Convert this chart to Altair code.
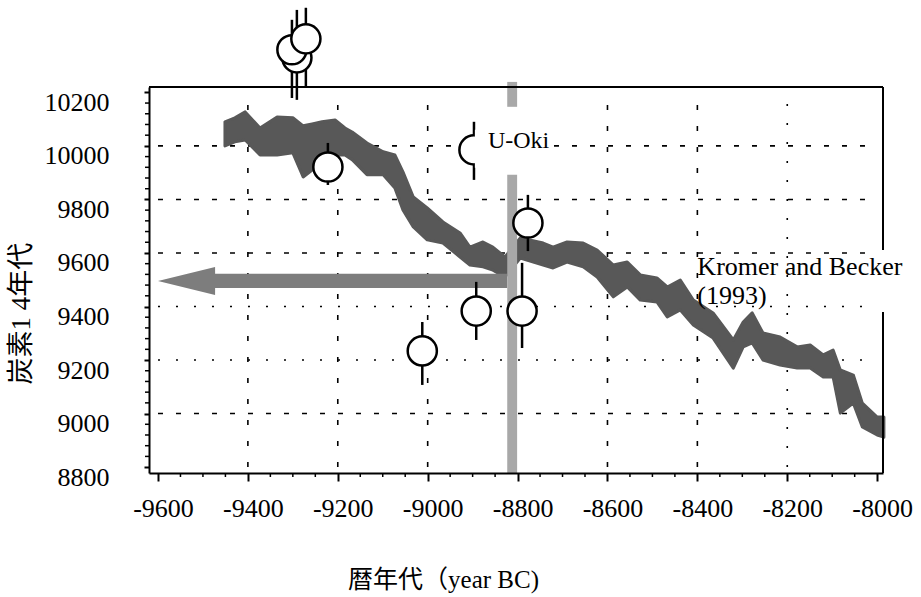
import altair as alt
import pandas as pd

# ---- Kromer and Becker (1993) calibration band (upper / lower C14 ages) ----
kb_year = [-9451, -9429, -9406, -9373, -9335, -9300, -9277, -9257, -9235, -9206,
           -9184, -9168, -9135, -9099, -9073, -9055, -9032, -9001, -8966, -8928,
           -8906, -8877, -8855, -8828, -8794, -8743, -8721, -8690, -8654, -8623,
           -8587, -8556, -8527, -8490, -8467, -8438, -8409, -8365, -8320, -8298,
           -8278, -8254, -8216, -8178, -8149, -8120, -8098, -8082, -8053, -8033,
           -8000, -7985]
kb_upper = [10090, 10105, 10127, 10067, 10108, 10105, 10075, 10082, 10090, 10097,
            10067, 10052, 10011, 9978, 9966, 9903, 9809, 9768, 9716, 9675,
            9622, 9641, 9622, 9585, 9656, 9637, 9622, 9641, 9637, 9611,
            9555, 9566, 9518, 9507, 9473, 9499, 9424, 9376, 9275, 9342,
            9376, 9301, 9286, 9249, 9256, 9219, 9237, 9163, 9144, 9039,
            8987, 8987]
kb_lower = [10000, 10015, 10022, 9966, 9966, 9974, 9884, 9910, 9948, 9966,
            9966, 9948, 9892, 9892, 9843, 9761, 9697, 9649, 9637, 9585,
            9555, 9548, 9536, 9510, 9581, 9555, 9544, 9566, 9548, 9510,
            9436, 9473, 9424, 9417, 9361, 9387, 9331, 9282, 9170, 9249,
            9264, 9200, 9181, 9170, 9170, 9137, 9137, 9002, 9039, 8950,
            8920, 8912]

# ---- measured samples (open circles with error bars) ----
pt_year = [-9222, -8897, -8777, -8892, -8790, -9012, -9291, -9302, -9271]
pt_c14 = [9921, 9985, 9712, 9383, 9383, 9234, 10329, 10359, 10400]
pt_lo = [9854, 9873, 9607, 9275, 9245, 9107, 10172, 10179, 10217]
pt_hi = [10011, 10090, 9817, 9492, 9563, 9342, 10508, 10471, 10516]

# ---- arrow (calendar-age range) ----
arrow_year = [-9600, -9473, -9472.9, -8823]
arrow_top = [9495, 9548, 9522, 9522]
arrow_bot = [9495, 9443, 9469, 9469]

# ---- vertical grey marker near -8810 ----
marker_x1 = [-8823, -8823]
marker_x2 = [-8801, -8801]
marker_top = [10239, 9892]
marker_bot = [10146, 8778]

# ---- axis ticks ----
x_ticks = [-9600, -9400, -9200, -9000, -8800, -8600, -8400, -8200, -8000]
y_ticks = [8800, 9000, 9200, 9400, 9600, 9800, 10000, 10200]
x_minor = [v for v in range(-9600, -7999, 50) if v % 200 != 0]
y_minor = [v for v in range(8800, 10201, 40) if v % 200 != 0]

# ---- grid lines ----
hgrid_dashed = [10000, 9800, 9600, 9000]
hgrid_dotted = [9400, 9200]
vgrid_dashed = [-9400, -9200, -9000, -8600, -8400]
vgrid_dotted = [-8200]

# ---- labels ----
labels_text = ["U-Oki", "Kromer and Becker", "(1993)"]
labels_x = [-8866, -8400, -8400]
labels_y = [9992, 9518, 9409]
labels_size = [24, 26, 26]

SERIF = "Liberation Serif"
MIXED = "Liberation Serif, Noto Sans CJK JP"

W, H = 734, 386
xs = alt.Scale(domain=[-9620, -7987], nice=False, zero=False)
ys = alt.Scale(domain=[8778, 10220], nice=False, zero=False)

x_axis = alt.Axis(
    values=x_ticks, labelExpr="'' + datum.value", labelFont=SERIF, labelFontSize=26,
    labelColor="black", labelPadding=27, labelBaseline="middle", labelOffset=5,
    labelFlush=False, labelOverlap=False,
    tickSize=8, tickWidth=2, tickColor="black", domainColor="black", domainWidth=2,
    grid=False, title="暦年代（year BC)", titleFont=MIXED, titleFontSize=25,
    titleFontWeight="normal", titleColor="black", titleX=294, titleY=114,
    titleAlign="center", titleBaseline="alphabetic", zindex=1)
y_axis = alt.Axis(
    values=y_ticks, labelExpr="'' + datum.value", labelFont=SERIF, labelFontSize=26,
    labelColor="black", labelPadding=35, labelBaseline="middle", labelOffset=10,
    labelFlush=False, labelOverlap=False,
    tickSize=5, tickWidth=2, tickColor="black", domainColor="black", domainWidth=2,
    grid=False, title="炭素1 4年代", titleFont=MIXED, titleFontSize=27,
    titleFontWeight="normal", titleColor="black", titleAngle=270, titleX=-128,
    titleY=226, titleAlign="center", titleBaseline="middle", zindex=1)


def X(f):
    return alt.X(f, type="quantitative", scale=xs, axis=x_axis)


def Y(f):
    return alt.Y(f, type="quantitative", scale=ys, axis=y_axis)


band_df = pd.DataFrame({"year": kb_year, "upper": kb_upper, "lower": kb_lower})
pt_df = pd.DataFrame({"year": pt_year, "c14": pt_c14, "lo": pt_lo, "hi": pt_hi})
arrow_df = pd.DataFrame({"year": arrow_year, "top": arrow_top, "bot": arrow_bot})
marker_df = pd.DataFrame({"x1": marker_x1, "x2": marker_x2, "top": marker_top, "bot": marker_bot})
lab_df = pd.DataFrame({"t": labels_text, "x": labels_x, "y": labels_y, "s": labels_size})


def hgrid(vals, dash):
    df = pd.DataFrame({"y": vals, "x1": [x_ticks[0]] * len(vals), "x2": [x_ticks[-1]] * len(vals)})
    return alt.Chart(df).mark_rule(color="black", strokeWidth=1.6, strokeDash=dash).encode(
        x=X("x1"), x2="x2:Q", y=Y("y"))


def vgrid(vals, dash):
    df = pd.DataFrame({"x": vals, "y1": [y_ticks[0]] * len(vals), "y2": [y_ticks[-1]] * len(vals)})
    return alt.Chart(df).mark_rule(color="black", strokeWidth=1.6, strokeDash=dash).encode(
        x=X("x"), y=Y("y1"), y2="y2:Q")


band = alt.Chart(band_df).mark_area(
    color="#585858", opacity=1, stroke="#585858", strokeWidth=3, strokeJoin="round").encode(
    x=X("year"), y=Y("upper"), y2="lower:Q")

arrow = alt.Chart(arrow_df).mark_area(color="#7d7d7d", opacity=1).encode(
    x=X("year"), y=Y("top"), y2="bot:Q")

marker = alt.Chart(marker_df).mark_rect(color="#a8a8a8").encode(
    x=X("x1"), x2="x2:Q", y=Y("top"), y2="bot:Q")

ebars = alt.Chart(pt_df).mark_rule(color="black", strokeWidth=2.5).encode(
    x=X("year"), y=Y("lo"), y2="hi:Q")

circles = alt.Chart(pt_df).mark_point(
    shape="circle", size=850, fill="white", fillOpacity=1, stroke="black",
    strokeWidth=2.5, opacity=1).encode(x=X("year"), y=Y("c14"))

# white background behind the U-Oki label
mask_df = pd.DataFrame({"x1": [-8895], "x2": [-8722], "y1": [9918], "y2": [10060]})
mask = alt.Chart(mask_df).mark_rect(color="white").encode(
    x=X("x1"), x2="x2:Q", y=Y("y1"), y2="y2:Q")

texts = alt.Chart(lab_df).mark_text(
    font=SERIF, align="left", baseline="alphabetic", color="black").encode(
    x=X("x"), y=Y("y"), text="t:N", size=alt.Size("s:Q", scale=None, legend=None))

frame_top = alt.Chart(pd.DataFrame({"k": [0]})).mark_rule(color="black", strokeWidth=2).encode(
    x=alt.value(0), x2=alt.value(W), y=alt.value(0))
frame_right_a = alt.Chart(pd.DataFrame({"k": [0]})).mark_rule(color="black", strokeWidth=2).encode(
    x=alt.value(W), y=alt.value(0), y2=alt.value(163))
frame_right_b = alt.Chart(pd.DataFrame({"k": [0]})).mark_rule(color="black", strokeWidth=2).encode(
    x=alt.value(W), y=alt.value(225), y2=alt.value(H))

xminor = alt.Chart(pd.DataFrame({"x": x_minor})).mark_rule(color="black", strokeWidth=1.5).encode(
    x=X("x"), y=alt.value(H), y2=alt.value(H + 4))
yminor = alt.Chart(pd.DataFrame({"y": y_minor})).mark_rule(color="black", strokeWidth=1.5).encode(
    y=Y("y"), x=alt.value(-4), x2=alt.value(0))

chart = alt.layer(
    hgrid(hgrid_dashed, [5, 13]), hgrid(hgrid_dotted, [2, 16]),
    vgrid(vgrid_dashed, [5, 16]), vgrid(vgrid_dotted, [2, 17]),
    band, arrow, marker, ebars, circles, mask, texts,
    frame_top, frame_right_a, frame_right_b, xminor, yminor
).properties(
    width=W, height=H,
    autosize=alt.AutoSizeParams(type="none"),
    padding={"left": 149, "top": 87, "right": 38, "bottom": 124},
    background="white",
).configure(
    font=SERIF
).configure_axis(
    labelFont=SERIF, labelFontSize=26
).configure_view(strokeWidth=0)

chart.save("out.html", embed_options={"renderer": "svg", "actions": False})
